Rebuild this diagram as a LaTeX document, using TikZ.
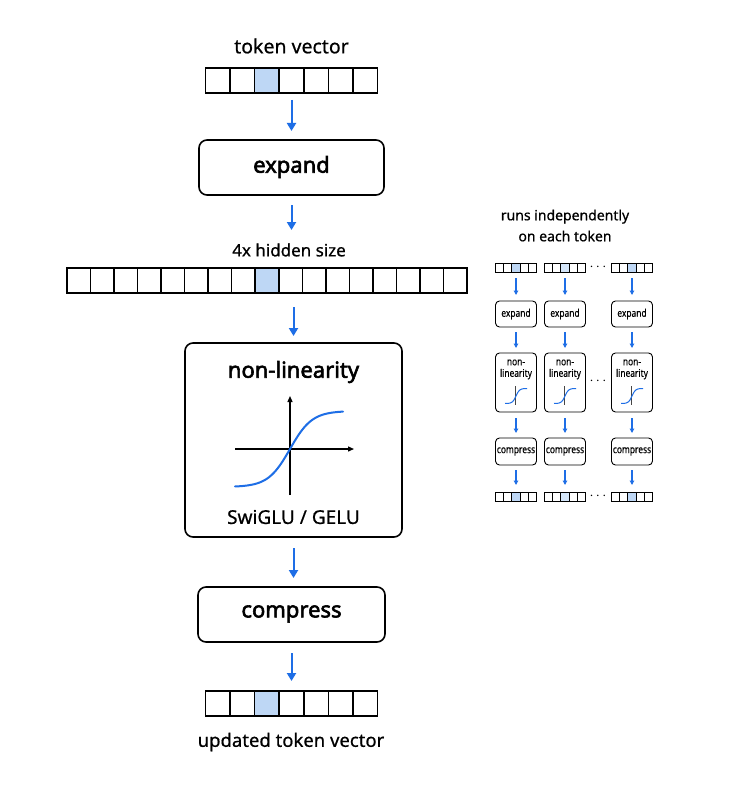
\documentclass[tikz,border=0pt]{standalone}
\usepackage{fontspec}
\setmainfont{Noto Sans}
\newfontfamily\labelfont{Noto Sans}[FakeBold=0.6]
\newfontfamily\titlefont{Noto Sans}[FakeBold=2.6]
\newfontfamily\minifont{Noto Sans}[FakeStretch=0.8,FakeBold=0.3]
\usetikzlibrary{arrows.meta,calc}
\definecolor{arrowblue}{RGB}{30,110,230}
\definecolor{cellblue}{RGB}{190,215,245}
\definecolor{cellbluelight}{RGB}{212,230,250}
\definecolor{axisgray}{RGB}{70,70,70}
% #1 name, #2 cx, #3 cy, #4 n cells, #5 cell width, #6 height, #7 highlighted index, #8 fill, #9 line width
\newcommand{\cellrow}[9]{%
  \pgfmathsetmacro{\rowleft}{#2-#4*#5/2}%
  \pgfmathsetmacro{\rowtop}{#3-#6/2}%
  \pgfmathsetmacro{\rowwidth}{#4*#5}%
  \pgfmathtruncatemacro{\rowlast}{#4-1}%
  \fill[#8] (\rowleft+#7*#5,\rowtop) rectangle ++(#5,#6);
  \foreach \ci in {1,...,\rowlast} {\draw[line width=#9] (\rowleft+\ci*#5,\rowtop) -- ++(0,#6);}
  \node[draw, line width=#9, minimum width=\rowwidth pt, minimum height=#6 pt, inner sep=0pt, outer sep=0pt] (#1) at (#2,#3) {};
}
\begin{document}
\begin{tikzpicture}[x=1pt,y=-1pt,
  arr/.style={-{Triangle[length=8pt,width=9pt]}, line width=2pt, draw=arrowblue},
  marr/.style={-{Triangle[length=4.5pt,width=4.5pt]}, line width=1.1pt, draw=arrowblue},
  bigbox/.style={draw, line width=1.6pt, rounded corners=8pt, fill=white, inner sep=0pt, outer sep=0pt},
  minibox/.style={draw, line width=0.9pt, rounded corners=4pt, fill=white, inner sep=0pt, outer sep=0pt, minimum width=41pt},
  boxtxt/.style={font=\titlefont\fontsize{22}{26}\selectfont},
  minitxt/.style={font=\minifont\fontsize{10.5}{11.5}\selectfont},
  dots/.style={font=\fontsize{14}{14}\selectfont}
]
\useasboundingbox (0,0) rectangle (739,797);
\fill[white] (0,0) rectangle (739,797);

% ---------- main column ----------
\node[font=\labelfont\fontsize{19.5}{22}\selectfont] (lbltop) at (291.5,46) {token vector};
\cellrow{vtop}{291.5}{80.5}{7}{24.57}{25}{2}{cellblue}{1.5pt}

\node[bigbox, minimum width=185pt, minimum height=55pt] (expand) at (291.5,167.5) {};
\node[boxtxt] (expandtxt) at (291.5,167) {expand};

\node[font=\labelfont\fontsize{17}{20}\selectfont] (lblhid) at (289,250) {4x hidden size};
\cellrow{vhid}{267}{280.5}{17}{23.53}{25}{8}{cellblue}{1.5pt}

\node[bigbox, minimum width=217pt, minimum height=194pt] (nonlin) at (293.5,440) {};
\node[boxtxt] (nonlintxt) at (293.5,372) {non-linearity};
\node[font=\labelfont\fontsize{19}{22}\selectfont] (swiglu) at (293.5,517) {SwiGLU / GELU};
\coordinate (hx0) at (235,449);
\coordinate (hx1) at (354,449);
\coordinate (vy0) at (290,495);
\coordinate (vy1) at (290,396);
\draw[line width=1.3pt, -{Triangle[length=6pt,width=5pt]}] (hx0) -- (hx1);
\draw[line width=1.3pt, -{Triangle[length=6pt,width=5pt]}] (vy0) -- (vy1);
\draw[arrowblue, line width=2pt, line cap=round] plot[domain=235:343, samples=80, smooth] (\x, {449-38*tanh((\x-290)/22)});

\node[bigbox, minimum width=187pt, minimum height=55pt] (compress) at (291.5,614.5) {};
\node[boxtxt] (compresstxt) at (291.5,614) {compress};

\cellrow{vbot}{291.5}{703.5}{7}{24.57}{25}{2}{cellblue}{1.5pt}
\node[font=\labelfont\fontsize{18.5}{22}\selectfont] (lblbot) at (291,742) {updated token vector};

\draw[arr, shorten <=7pt, shorten >=9pt] (vtop.south) -- (expand.north);
\draw[arr, shorten <=10pt, shorten >=38pt] (expand.south) -- (expand.south |- vhid.north);
\draw[arr, shorten <=14pt, shorten >=7pt] (nonlin.north |- vhid.south) -- (nonlin.north);
\draw[arr, shorten <=11pt, shorten >=9pt] (nonlin.south) -- (nonlin.south |- compress.north);
\draw[arr, shorten <=11pt, shorten >=10pt] (compress.south) -- (compress.south |- vbot.north);

% ---------- right panel ----------
\node[align=center, font=\labelfont\fontsize{14}{21}\selectfont] (rtitle) at (565,225.5) {runs independently\\on each token};

\foreach \col/\cx/\hf in {1/516/cellblue, 2/565/cellbluelight, 3/632/cellblue} {
  \cellrow{mv\col}{\cx}{267.5}{5}{8.3}{9}{2}{\hf}{0.9pt}
  \node[minibox, minimum height=26pt] (me\col) at (\cx,314) {};
  \node[minitxt] at (\cx,314) {expand};
  \node[minibox, minimum height=59pt] (mn\col) at (\cx,382.5) {};
  \node[minitxt, align=center, anchor=north] at (\cx,356) {non-\\linearity};
  \draw[axisgray, line width=1pt] (\cx-1,386) -- (\cx-1,405);
  \draw[arrowblue, line width=1pt] plot[domain=-11:11, samples=30, smooth] (\cx+\x, {396-7.5*tanh(\x/3.5)});
  \node[minibox, minimum height=27pt] (mc\col) at (\cx,451.5) {};
  \node[minitxt] at (\cx,451.5) {compress};
  \cellrow{mb\col}{\cx}{496.5}{5}{8.3}{9}{2}{\hf}{0.9pt}
  \draw[marr, shorten <=6pt, shorten >=6pt] (mv\col.south) -- (me\col.north);
  \draw[marr, shorten <=5pt, shorten >=5pt] (me\col.south) -- (mn\col.north);
  \draw[marr, shorten <=6pt, shorten >=5pt] (mn\col.south) -- (mc\col.north);
  \draw[marr, shorten <=5pt, shorten >=7pt] (mc\col.south) -- (mb\col.north);
}
\node[dots] (dots1) at (598,267) {$\cdots$};
\node[dots] (dots2) at (598,381) {$\cdots$};
\node[dots] (dots3) at (598,496.5) {$\cdots$};
\end{tikzpicture}
\end{document}
